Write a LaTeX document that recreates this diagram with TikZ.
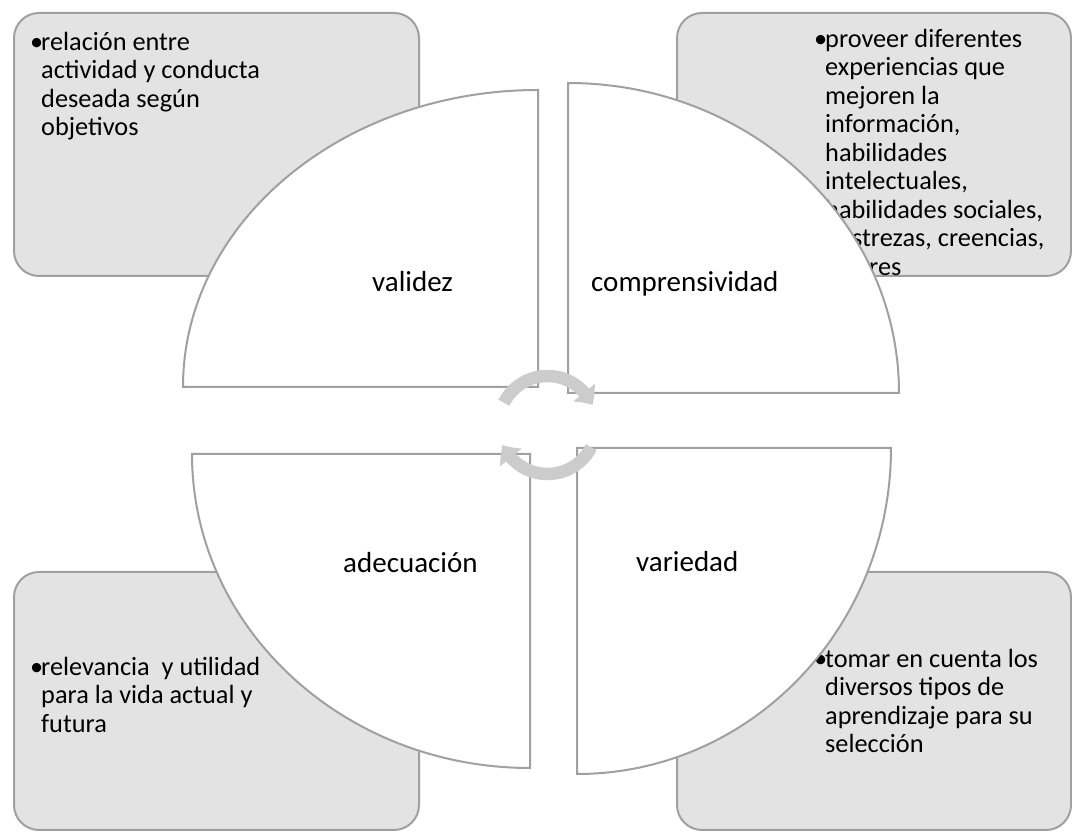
\documentclass[tikz,border=0pt]{standalone}
\usepackage{fontspec}
\setmainfont{Carlito}
\usetikzlibrary{arrows.meta,bending}
\definecolor{boxfill}{RGB}{227,227,227}
\definecolor{edgegray}{RGB}{160,160,160}
\definecolor{arrowgray}{RGB}{204,204,204}
\begin{document}
\begin{tikzpicture}[x=1pt,y=1pt,
  cornerbox/.style={draw=edgegray, fill=boxfill, line width=2pt, rounded corners=25pt, inner sep=0pt, anchor=south west},
  sector/.style={draw=edgegray, fill=white, line width=2pt},
  boxtext/.style={anchor=north west, inner sep=0pt, align=left, font=\fontsize{26.3}{28.5}\selectfont},
  seclabel/.style={anchor=base west, inner sep=0pt, font=\fontsize{29}{34}\selectfont},
  cyc/.style={draw=arrowgray, line width=12.5pt, -{Triangle[bend, width=27pt, length=15pt]}}
]
\useasboundingbox (0,0) rectangle (1072,833);
\newcommand{\bul}{\llap{\makebox[11pt][l]{•}}}
% corner boxes
\node[cornerbox, minimum width=405pt, minimum height=263pt] (tlbox) at (13,556) {};
\node[cornerbox, minimum width=394pt, minimum height=263pt] (trbox) at (676,556) {};
\node[cornerbox, minimum width=405pt, minimum height=258pt] (blbox) at (13,2) {};
\node[cornerbox, minimum width=394pt, minimum height=258pt] (brbox) at (676,2) {};
% box texts
\node[boxtext] (tltext) at (41,805)
  {\bul\rule{0pt}{22pt}relación entre\\actividad y conducta\\deseada según\\objetivos};
\node[boxtext] (trtext) at (825,808)
  {\bul\rule{0pt}{22pt}proveer diferentes\\experiencias que\\mejoren la\\información,\\habilidades\\intelectuales,\\habilidades sociales,\\destrezas, creencias,\\valores};
\node[boxtext] (bltext) at (41,180)
  {\bul\rule{0pt}{22pt}relevancia\ \ y utilidad\\para la vida actual y\\futura};
\node[boxtext] (brtext) at (825,188)
  {\bul\rule{0pt}{22pt}tomar en cuenta los\\diversos tipos de\\aprendizaje para su\\selección};
% quarter sectors
\filldraw[sector] (538,446) -- (183,446) arc[start angle=180, end angle=90, x radius=355, y radius=297] -- cycle;
\filldraw[sector] (568,440) -- (899,440) arc[start angle=0, end angle=90, x radius=331, y radius=310] -- cycle;
\filldraw[sector] (530,379) -- (192,379) arc[start angle=180, end angle=270, x radius=338, y radius=314] -- cycle;
\filldraw[sector] (577,385) -- (891,385) arc[start angle=0, end angle=-90, x radius=314, y radius=326] -- cycle;
% sector labels
\node[seclabel] (validez) at (372,541) {validez};
\node[seclabel] (compr) at (591,541) {comprensividad};
\node[seclabel] (adec) at (343,260) {adecuación};
\node[seclabel] (varied) at (636,261) {variedad};
% central cycle arrows
\coordinate (cc) at (547.5,408);
\draw[cyc] (cc) ++(153:49) arc[start angle=153, end angle=24, radius=49];
\draw[cyc] (cc) ++(-27:49) arc[start angle=-27, end angle=-156, radius=49];
\end{tikzpicture}
\end{document}
